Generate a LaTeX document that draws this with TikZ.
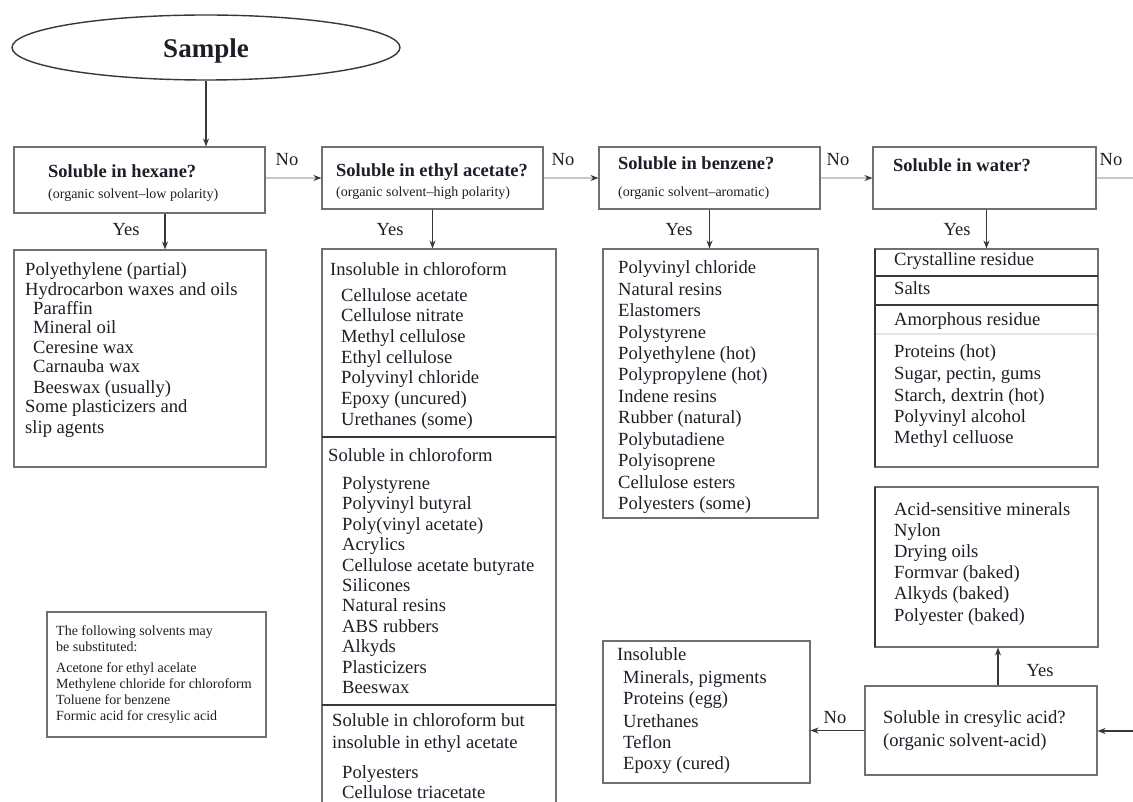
\documentclass[tikz,border=0pt]{standalone}
\usepackage{fontspec}
\setmainfont{Liberation Serif}
\usetikzlibrary{arrows.meta,shapes.geometric}
\definecolor{ink}{HTML}{1E1E28}
\definecolor{frame}{HTML}{707070}
\definecolor{darkline}{HTML}{383838}
\definecolor{pale}{HTML}{C8C8C8}
\definecolor{faint}{HTML}{E4E4E4}
\tikzset{
  box/.style={draw=frame, line width=1.1pt, rectangle, inner sep=0pt},
  qtitle/.style={anchor=base west, inner sep=0pt, text=ink, font=\fontsize{18.5}{20}\selectfont\bfseries},
  qsub/.style={anchor=base west, inner sep=0pt, text=ink, font=\fontsize{14}{15}\selectfont},
  item/.style={anchor=base west, inner sep=0pt, text=ink, font=\fontsize{18.6}{20}\selectfont},
  note/.style={anchor=base west, inner sep=0pt, text=ink, font=\fontsize{14}{15}\selectfont},
  lab/.style={anchor=base, inner sep=0pt, text=ink, font=\fontsize{18.5}{20}\selectfont},
  arr/.style={draw=darkline, line width=1.1pt, -{Stealth[length=8pt,width=6pt]}},
  noarr/.style={draw=pale, line width=1.1pt, -{Stealth[length=8pt,width=6pt,color=darkline]}},
  divider/.style={draw=darkline, line width=1.3pt},
}
\begin{document}
\begin{tikzpicture}[x=1pt,y=-1pt]
\useasboundingbox (0,0) rectangle (1133,802);
\clip (0,0) rectangle (1133,802);
\fill[white] (0,0) rectangle (1133,802);

% start
\node[draw=darkline, line width=1.4pt, ellipse, minimum width=388pt, minimum height=65pt,
      inner sep=0pt] (sample) at (206,47.5) {};
\node[anchor=base, inner sep=0pt, text=ink, font=\fontsize{27}{30}\selectfont\bfseries]
      (samplet) at (206,58) {Sample};

% question boxes
\node[box, minimum width=251pt, minimum height=66pt] (q1) at (139.5,180) {};
\node[box, minimum width=221pt, minimum height=62pt] (q2) at (432.5,178) {};
\node[box, minimum width=221pt, minimum height=62pt] (q3) at (709.5,178) {};
\node[box, minimum width=223pt, minimum height=62pt] (q4) at (984.5,178) {};
\node[box, minimum width=232pt, minimum height=89pt] (q5) at (981,730.5) {};

\node[qtitle] (q1t) at (48,177.5) {Soluble in hexane?};
\node[qsub]   (q1s) at (48,198.5) {(organic solvent--low polarity)};
\node[qtitle] (q2t) at (336,176.5) {Soluble in ethyl acetate?};
\node[qsub]   (q2s) at (336,196.5) {(organic solvent--high polarity)};
\node[qtitle] (q3t) at (618,169.5) {Soluble in benzene?};
\node[qsub]   (q3s) at (618,196.5) {(organic solvent--aromatic)};
\node[qtitle] (q4t) at (893,171.5) {Soluble in water?};
\node[item]   (q5t) at (883,723) {Soluble in cresylic acid?};
\node[item]   (q5s) at (883,746) {(organic solvent-acid)};

% result boxes
\node[box, minimum width=252pt, minimum height=217pt] (r1) at (140,358.5) {};
\node[box, minimum width=234pt, minimum height=561pt] (r2) at (439,529.5) {};
\node[box, minimum width=215pt, minimum height=269pt] (r3) at (710.5,383.5) {};
\node[box, minimum width=223pt, minimum height=218pt] (r4) at (986.5,358) {};
\node[box, minimum width=223pt, minimum height=160pt] (r5) at (986.5,567) {};
\node[box, minimum width=207pt, minimum height=142pt] (r6) at (706.5,712) {};
\node[box, minimum width=219pt, minimum height=125pt] (nb) at (156.5,674.5) {};

% section rules inside the boxes
\draw[divider] (322,437) -- (556,437);
\draw[divider] (322,705) -- (556,705);
\draw[divider] (875,276) -- (1098,276);
\draw[divider] (875,305) -- (1098,305);
\draw[draw=faint, line width=2pt] (876,334) -- (1097,334);
\draw[divider] (875,249) -- (875,467);
\draw[divider] (875,487) -- (875,647);

% hexane list
\foreach \t/\x/\y [count=\i] in {
  Polyethylene (partial)/25/276,
  Hydrocarbon waxes and oils/25/296,
  Paraffin/33/315,
  Mineral oil/33/334,
  Ceresine wax/33/354,
  Carnauba wax/33/373,
  Beeswax (usually)/33/393,
  Some plasticizers and/25/412,
  slip agents/25/433}
  \node[item] (r1t\i) at (\x,\y) {\t};

% ethyl acetate list
\foreach \t/\x/\y [count=\i] in {
  Insoluble in chloroform/330/276,
  Cellulose acetate/341/302,
  Cellulose nitrate/341/322,
  Methyl cellulose/341/343,
  Ethyl cellulose/341/363,
  Polyvinyl chloride/341/384,
  Epoxy (uncured)/341/404,
  Urethanes (some)/341/425,
  Soluble in chloroform/328/461,
  Polystyrene/342/489,
  Polyvinyl butyral/342/509,
  Poly(vinyl acetate)/342/530,
  Acrylics/342/550,
  Cellulose acetate butyrate/342/571,
  Silicones/342/591,
  Natural resins/342/611,
  ABS rubbers/342/632,
  Alkyds/342/652,
  Plasticizers/342/673,
  Beeswax/342/693,
  Soluble in chloroform but/332/726,
  insoluble in ethyl acetate/332/748,
  Polyesters/342/778,
  Cellulose triacetate/342/798}
  \node[item] (r2t\i) at (\x,\y) {\t};

% benzene list
\foreach \t [count=\i] in {
  Polyvinyl chloride, Natural resins, Elastomers, Polystyrene,
  Polyethylene (hot), Polypropylene (hot), Indene resins, Rubber (natural),
  Polybutadiene, Polyisoprene, Cellulose esters, Polyesters (some)}
  \node[item] (r3t\i) at (618,{274+21.4*(\i-1)}) {\t};

% water list
\foreach \t/\y [count=\i] in {
  Crystalline residue/266,
  Salts/295,
  Amorphous residue/326,
  Proteins (hot)/358,
  {Sugar, pectin, gums}/380,
  {Starch, dextrin (hot)}/401,
  Polyvinyl alcohol/422,
  Methyl celluose/443}
  \node[item] (r4t\i) at (894,\y) {\t};

% cresylic acid list
\foreach \t [count=\i] in {
  Acid-sensitive minerals, Nylon, Drying oils, Formvar (baked),
  Alkyds (baked), Polyester (baked)}
  \node[item] (r5t\i) at (894,{515+21.2*(\i-1)}) {\t};

% insoluble list
\foreach \t/\x/\y [count=\i] in {
  Insoluble/617/660,
  {Minerals, pigments}/623/683,
  Proteins (egg)/623/704,
  Urethanes/623/727,
  Teflon/623/748,
  Epoxy (cured)/623/769}
  \node[item] (r6t\i) at (\x,\y) {\t};

% substitution note
\foreach \t/\y [count=\i] in {
  The following solvents may/635.5,
  be substituted:/651.5,
  Acetone for ethyl acelate/672.5,
  Methylene chloride for chloroform/688.5,
  Toluene for benzene/704.5,
  Formic acid for cresylic acid/720.5}
  \node[note] (nbt\i) at (56,\y) {\t};

% connectors
\draw[arr] (sample.south) -- (sample.south |- q1.north);
\coordinate (outR) at (1133,178);
\coordinate (inR) at (1133,731);
\draw[noarr] (q1.east |- q2.west) -- (q2.west);
\draw[noarr] (q2.east) -- (q3.west);
\draw[noarr] (q3.east) -- (q4.west);
\draw[draw=pale, line width=1.1pt] (q4.east) -- (outR);
\draw[arr] ([xshift=25.5pt]q1.south) -- ([xshift=25.5pt]q1.south |- r1.north);
\draw[arr] (q2.south) -- (q2.south |- r2.north);
\draw[arr] (q3.south) -- (q3.south |- r3.north);
\draw[arr] (r4.north |- q4.south) -- (r4.north);
\draw[arr] (inR) -- (inR -| q5.east);
\draw[arr] ([xshift=17pt]q5.north) -- ([xshift=17pt]q5.north |- r5.south);
\draw[arr] (q5.west) -- (q5.west -| r6.east);

% branch labels
\node[lab] (no1) at (287,166) {No};
\node[lab] (no2) at (563,166) {No};
\node[lab] (no3) at (838,166) {No};
\node[lab] (no4) at (1111,166) {No};
\node[lab] (no5) at (835,723) {No};
\node[lab] (yes1) at (126,236) {Yes};
\node[lab] (yes2) at (390,236) {Yes};
\node[lab] (yes3) at (679,236) {Yes};
\node[lab] (yes4) at (957,236) {Yes};
\node[lab] (yes5) at (1040,676) {Yes};
\end{tikzpicture}
\end{document}
